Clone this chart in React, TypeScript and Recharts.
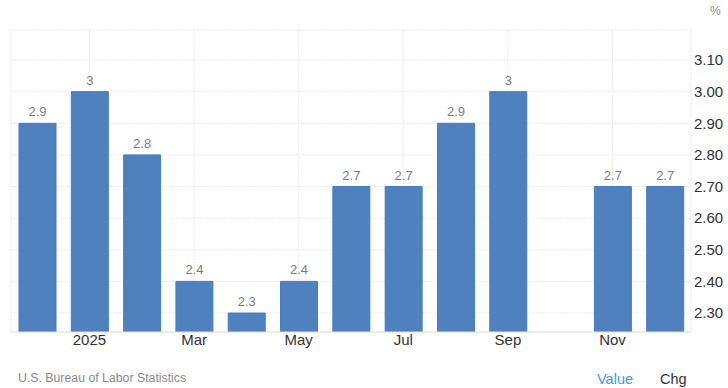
import { BarChart, Bar, XAxis, YAxis, CartesianGrid, LabelList } from 'recharts';

const months = ['2024-12', '2025-01', '2025-02', '2025-03', '2025-04', '2025-05', '2025-06', '2025-07', '2025-08', '2025-09', '2025-10', '2025-11', '2025-12'];
const cpiValues = [2.9, 3, 2.8, 2.4, 2.3, 2.4, 2.7, 2.7, 2.9, 3, null, 2.7, 2.7];
const xTicks = ['2025-01', '2025-03', '2025-05', '2025-07', '2025-09', '2025-11'];
const xTickLabels = ['2025', 'Mar', 'May', 'Jul', 'Sep', 'Nov'];
const yTicks = [2.3, 2.4, 2.5, 2.6, 2.7, 2.8, 2.9, 3.0, 3.1];

const FONT = '"Liberation Sans", Arial, Helvetica, sans-serif';

const ValueLabel = ({ x, y, width, value }: any) => {
  if (value === null || value === undefined) return null;
  return (
    <text
      x={x + width / 2}
      y={y - 7}
      textAnchor="middle"
      fill="#7d7d7d"
      fontSize={13}
      fontFamily={FONT}
    >
      {value}
    </text>
  );
};

export default function App() {
  const data = months.map((m, i) => ({ month: m, value: cpiValues[i] }));

  return (
    <div style={{ position: 'absolute', left: 0, top: 0, width: 728, height: 388, background: '#fff', fontFamily: FONT }}>
      <BarChart
        width={728}
        height={388}
        data={data}
        margin={{ top: 30, right: 0, bottom: 26, left: 11 }}
        barSize={37}
      >
        <CartesianGrid stroke="#ebebeb" strokeDasharray="2 1" />
        <XAxis
          dataKey="month"
          ticks={xTicks}
          tickFormatter={(v: string) => xTickLabels[xTicks.indexOf(v)] ?? ''}
          tickLine={false}
          tickSize={0}
          tickMargin={2}
          axisLine={{ stroke: '#e0e0e0' }}
          height={30}
          tick={{ fill: '#333', fontSize: 15, fontFamily: FONT }}
        />
        <YAxis
          orientation="right"
          domain={[2.24, 3.195]}
          ticks={yTicks}
          allowDataOverflow
          tickFormatter={(v: number) => v.toFixed(2)}
          tickLine={false}
          tickSize={0}
          tickMargin={3}
          axisLine={false}
          width={37}
          tick={{ fill: '#333', fontSize: 15, fontFamily: FONT }}
        />
        <Bar dataKey="value" fill="#4e81bd" stroke="#3f7fca" strokeWidth={1} isAnimationActive={false}>
          <LabelList dataKey="value" content={<ValueLabel />} />
        </Bar>
      </BarChart>
      <div style={{ position: 'absolute', left: 710, top: 4, fontSize: 12, color: '#8a8a8a' }}>%</div>
      <div style={{ position: 'absolute', left: 18, top: 371, fontSize: 12.3, color: '#8a8a8a' }}>
        U.S. Bureau of Labor Statistics
      </div>
      <div style={{ position: 'absolute', left: 597, top: 371, fontSize: 14.5, color: '#3a9bec' }}>Value</div>
      <div style={{ position: 'absolute', left: 660, top: 371, fontSize: 14.5, color: '#333' }}>Chg</div>
    </div>
  );
}
